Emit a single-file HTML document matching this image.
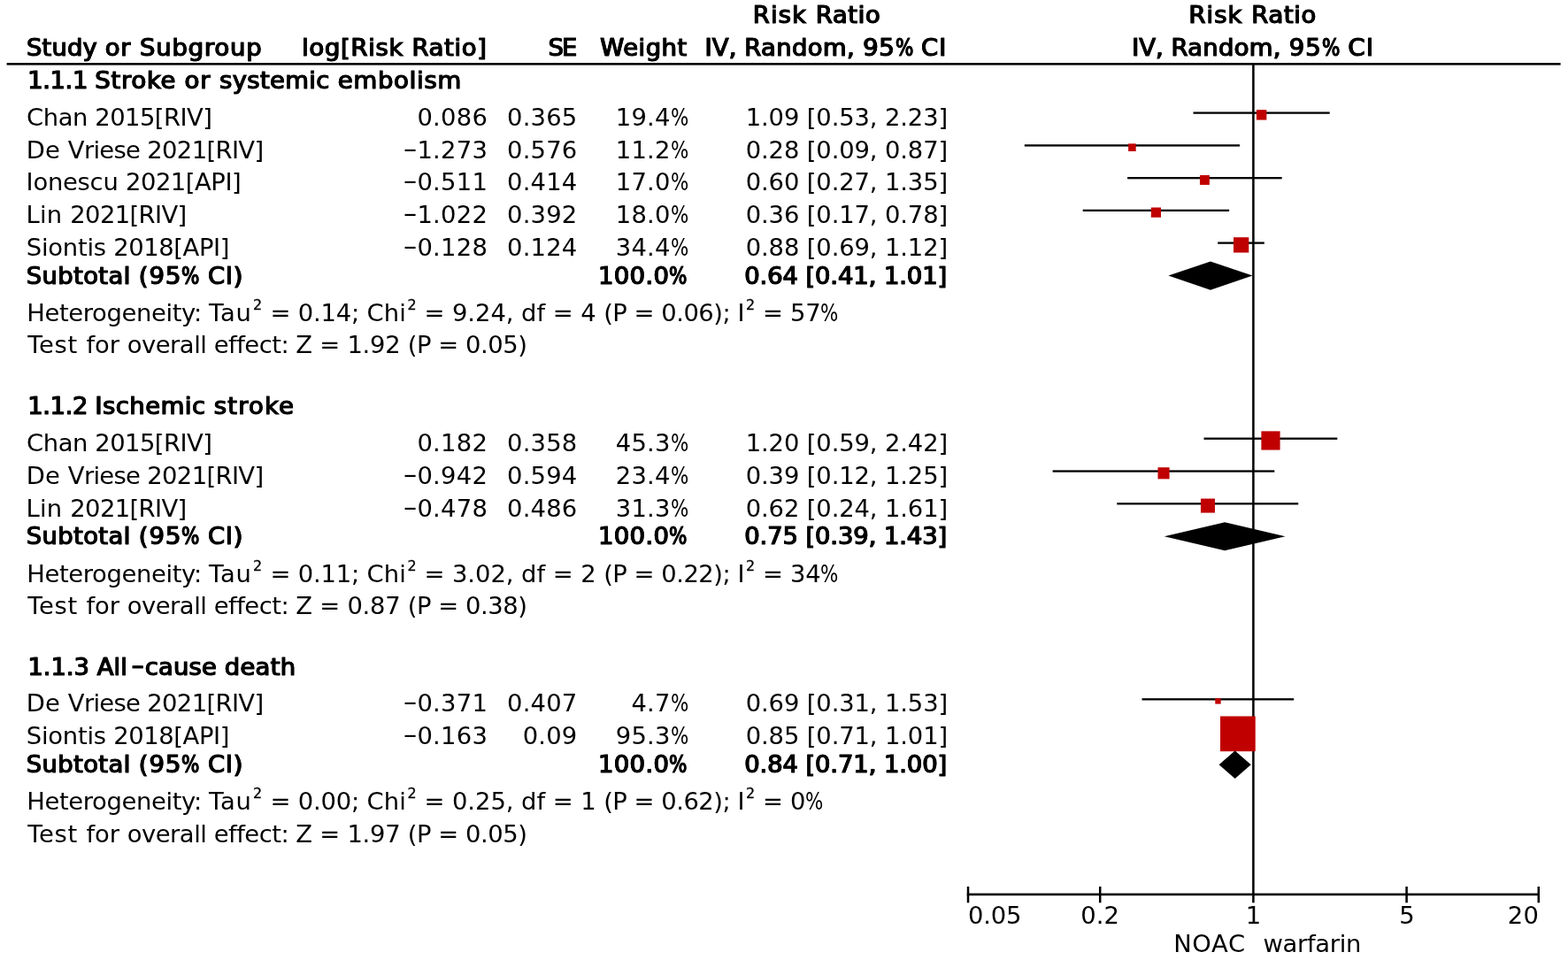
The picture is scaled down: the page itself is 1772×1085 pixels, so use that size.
<!DOCTYPE html>
<html lang="en">
<head>
<meta charset="utf-8">
<title>Forest plot: NOAC vs warfarin (risk ratio, IV, random, 95% CI)</title>
<style>
html,body{margin:0;padding:0;background:#fff}
body{width:1772px;height:1085px;position:relative;overflow:hidden;color:#000;font-family:"DejaVu Sans","Liberation Sans",sans-serif;font-size:27.4px}
#fp{position:absolute;left:0;top:0;width:1772px;height:1085px}
#fp svg{position:absolute;left:0;top:0}
.t{position:absolute;white-space:pre;line-height:40px;height:40px;margin:0;font-weight:normal}
.b{-webkit-text-stroke:1.1px #000;text-shadow:0.55px 0 0 #000,-0.55px 0 0 #000}
.r{text-align:right}
.t sup{font-size:0.58em;line-height:0;vertical-align:baseline;position:relative;top:-13px;margin-left:1.5px;letter-spacing:0;-webkit-text-stroke:.3px #000}
.m{display:inline-block;width:.545em;text-align:center;transform:scaleX(1.68);position:relative;top:-1.8px;letter-spacing:0}
.b .m{width:.63em;transform:scaleX(1.45);top:-2px;margin-left:2.6px}
.p{display:inline-block;width:.73em;transform:scaleX(.78);transform-origin:0 50%;letter-spacing:0}
</style>
</head>
<body>
<div id="fp">
<svg width="1772" height="1085" viewBox="0 0 1772 1085">
<rect x="7.60" y="71.10" width="1756.00" height="2.50" fill="#000"/>
<rect x="1415.15" y="72.00" width="2.50" height="948.30" fill="#000"/>
<rect x="1348.50" y="126.45" width="154.20" height="2.30" fill="#000"/>
<rect x="1157.80" y="163.25" width="243.20" height="2.30" fill="#000"/>
<rect x="1274.10" y="200.05" width="174.60" height="2.30" fill="#000"/>
<rect x="1223.70" y="236.70" width="165.40" height="2.30" fill="#000"/>
<rect x="1376.20" y="273.45" width="52.60" height="2.30" fill="#000"/>
<rect x="1419.95" y="124.15" width="11.40" height="11.40" fill="#c00000"/>
<rect x="1275.11" y="162.35" width="8.60" height="8.60" fill="#c00000"/>
<rect x="1355.96" y="198.00" width="10.90" height="10.90" fill="#c00000"/>
<rect x="1300.82" y="234.50" width="11.20" height="11.20" fill="#c00000"/>
<rect x="1393.98" y="268.20" width="17.30" height="17.30" fill="#c00000"/>
<polygon points="1320.40,311.60 1367.95,295.50 1415.50,311.60 1367.95,327.70" fill="#000"/>
<rect x="1360.50" y="494.55" width="150.80" height="2.30" fill="#000"/>
<rect x="1189.60" y="531.40" width="250.70" height="2.30" fill="#000"/>
<rect x="1262.30" y="568.15" width="204.90" height="2.30" fill="#000"/>
<rect x="1425.39" y="487.35" width="21.20" height="21.20" fill="#c00000"/>
<rect x="1308.48" y="528.25" width="13.10" height="13.10" fill="#c00000"/>
<rect x="1356.96" y="563.55" width="16.00" height="16.00" fill="#c00000"/>
<polygon points="1315.80,606.25 1384.15,590.30 1452.50,606.25 1384.15,622.20" fill="#000"/>
<rect x="1290.50" y="789.20" width="171.70" height="2.30" fill="#000"/>
<rect x="1379.60" y="825.95" width="37.90" height="2.30" fill="#000"/>
<rect x="1373.28" y="789.20" width="6.40" height="6.40" fill="#c00000"/>
<rect x="1379.01" y="809.50" width="39.70" height="39.70" fill="#c00000"/>
<polygon points="1377.60,864.35 1395.65,848.60 1413.70,864.35 1395.65,880.10" fill="#000"/>
<rect x="1092.78" y="1009.60" width="647.24" height="2.60" fill="#000"/>
<rect x="1092.78" y="1002.00" width="2.50" height="18.30" fill="#000"/>
<rect x="1241.96" y="1002.00" width="2.50" height="18.30" fill="#000"/>
<rect x="1588.34" y="1002.00" width="2.50" height="18.30" fill="#000"/>
<rect x="1737.52" y="1002.00" width="2.50" height="18.30" fill="#000"/>
</svg>
<div class="t b" style="left:850.82px;top:-3px"><span style="letter-spacing:1.11px">Risk </span><span style="letter-spacing:0.62px">Ratio</span></div>
<div class="t b" style="left:1343.43px;top:-3px"><span style="letter-spacing:1.08px">Risk </span><span style="letter-spacing:0.65px">Ratio</span></div>
<div class="t b" style="left:30.00px;top:34px"><span style="letter-spacing:0.15px">Study </span><span style="letter-spacing:0.86px">or </span><span style="letter-spacing:0.84px">Subgroup</span></div>
<div class="t b" style="left:341.10px;top:34px"><span style="letter-spacing:0.72px">log[Risk </span><span style="letter-spacing:0.68px">Ratio]</span></div>
<div class="t b" style="left:619.58px;top:34px;letter-spacing:-1.91px">SE</div>
<div class="t b" style="left:678.18px;top:34px;letter-spacing:0.53px">Weight</div>
<div class="t b" style="left:796.62px;top:34px"><span style="letter-spacing:0.11px">IV, </span><span style="letter-spacing:0.38px">Random, </span><span style="letter-spacing:0.77px">95<span class="p">%</span> </span><span style="letter-spacing:1.08px">CI</span></div>
<div class="t b" style="left:1279.15px;top:34px"><span style="letter-spacing:0.03px">IV, </span><span style="letter-spacing:0.30px">Random, </span><span style="letter-spacing:1.03px">95<span class="p">%</span> </span><span style="letter-spacing:1.37px">CI</span></div>
<div class="t b" style="left:31.17px;top:71px"><span style="letter-spacing:-0.37px">1.1.1 </span><span style="letter-spacing:0.75px">Stroke </span><span style="letter-spacing:0.90px">or </span><span style="letter-spacing:0.38px">systemic </span><span style="letter-spacing:0.78px">embolism</span></div>
<div class="t" style="left:30.08px;top:113px"><span style="letter-spacing:-0.43px">Chan </span><span style="letter-spacing:-0.53px">2015[RIV]</span></div>
<div class="t r" style="right:1220.70px;top:113px;letter-spacing:0.30px">0.086</div>
<div class="t r" style="right:1119.59px;top:113px;letter-spacing:0.18px">0.365</div>
<div class="t r" style="right:994.49px;top:113px;letter-spacing:0.18px">19.4<span class="p">%</span></div>
<div class="t r" style="right:701.00px;top:113px;letter-spacing:-0.13px">1.09 [0.53, 2.23]</div>
<div class="t" style="left:29.64px;top:150px"><span style="letter-spacing:0.19px">De </span><span style="letter-spacing:-0.70px">Vriese </span><span style="letter-spacing:-0.63px">2021[RIV]</span></div>
<div class="t r" style="right:1220.70px;top:150px;letter-spacing:0.30px"><span class="m">-</span>1.273</div>
<div class="t r" style="right:1119.59px;top:150px;letter-spacing:0.18px">0.576</div>
<div class="t r" style="right:994.49px;top:150px;letter-spacing:0.18px">11.2<span class="p">%</span></div>
<div class="t r" style="right:701.00px;top:150px;letter-spacing:-0.13px">0.28 [0.09, 0.87]</div>
<div class="t" style="left:29.59px;top:186px"><span style="letter-spacing:-0.26px">Ionescu </span><span style="letter-spacing:-0.46px">2021[API]</span></div>
<div class="t r" style="right:1220.70px;top:186px;letter-spacing:0.30px"><span class="m">-</span>0.511</div>
<div class="t r" style="right:1119.59px;top:186px;letter-spacing:0.18px">0.414</div>
<div class="t r" style="right:994.49px;top:186px;letter-spacing:0.18px">17.0<span class="p">%</span></div>
<div class="t r" style="right:701.00px;top:186px;letter-spacing:-0.13px">0.60 [0.27, 1.35]</div>
<div class="t" style="left:29.61px;top:223px"><span style="letter-spacing:0.19px">Lin </span><span style="letter-spacing:-0.63px">2021[RIV]</span></div>
<div class="t r" style="right:1220.70px;top:223px;letter-spacing:0.30px"><span class="m">-</span>1.022</div>
<div class="t r" style="right:1119.59px;top:223px;letter-spacing:0.18px">0.392</div>
<div class="t r" style="right:994.49px;top:223px;letter-spacing:0.18px">18.0<span class="p">%</span></div>
<div class="t r" style="right:701.00px;top:223px;letter-spacing:-0.13px">0.36 [0.17, 0.78]</div>
<div class="t" style="left:29.76px;top:260px"><span style="letter-spacing:-0.23px">Siontis </span><span style="letter-spacing:-0.43px">2018[API]</span></div>
<div class="t r" style="right:1220.70px;top:260px;letter-spacing:0.30px"><span class="m">-</span>0.128</div>
<div class="t r" style="right:1119.59px;top:260px;letter-spacing:0.18px">0.124</div>
<div class="t r" style="right:994.49px;top:260px;letter-spacing:0.18px">34.4<span class="p">%</span></div>
<div class="t r" style="right:701.00px;top:260px;letter-spacing:-0.13px">0.88 [0.69, 1.12]</div>
<div class="t b" style="left:29.79px;top:292px"><span style="letter-spacing:0.39px">Subtotal </span><span style="letter-spacing:1.00px">(95<span class="p">%</span> </span><span style="letter-spacing:0.71px">CI)</span></div>
<div class="t b r" style="right:995.74px;top:292px;letter-spacing:0.36px">100.0<span class="p">%</span></div>
<div class="t b r" style="right:701.89px;top:292px;letter-spacing:-0.09px">0.64 [0.41, 1.01]</div>
<div class="t" style="left:30.22px;top:334px"><span style="letter-spacing:-0.37px">Heterogeneity: </span><span style="letter-spacing:0.69px">Tau<sup>2</sup> </span><span style="letter-spacing:-0.21px">= 0.14; </span><span style="letter-spacing:0.15px">Chi<sup>2</sup> </span><span style="letter-spacing:-0.05px">= 9.24, </span><span style="letter-spacing:-0.07px">df = 4 </span><span style="letter-spacing:-0.49px">(P = 0.06); </span><span style="letter-spacing:0.01px">I<sup>2</sup> </span><span style="letter-spacing:-0.26px">= 57<span class="p">%</span></span></div>
<div class="t" style="left:31.19px;top:370px"><span style="letter-spacing:0.72px">Test </span><span style="letter-spacing:-0.04px">for </span><span style="letter-spacing:-0.47px">overall </span><span style="letter-spacing:-0.51px">effect: </span><span style="letter-spacing:-0.26px">Z = 1.92 </span><span style="letter-spacing:-0.46px">(P = 0.05)</span></div>
<div class="t b" style="left:31.19px;top:439px"><span style="letter-spacing:-0.37px">1.1.2 </span><span style="letter-spacing:0.53px">Ischemic </span><span style="letter-spacing:1.19px">stroke</span></div>
<div class="t" style="left:30.08px;top:481px"><span style="letter-spacing:-0.43px">Chan </span><span style="letter-spacing:-0.53px">2015[RIV]</span></div>
<div class="t r" style="right:1220.70px;top:481px;letter-spacing:0.30px">0.182</div>
<div class="t r" style="right:1119.59px;top:481px;letter-spacing:0.18px">0.358</div>
<div class="t r" style="right:994.49px;top:481px;letter-spacing:0.18px">45.3<span class="p">%</span></div>
<div class="t r" style="right:701.00px;top:481px;letter-spacing:-0.13px">1.20 [0.59, 2.42]</div>
<div class="t" style="left:29.64px;top:518px"><span style="letter-spacing:0.19px">De </span><span style="letter-spacing:-0.70px">Vriese </span><span style="letter-spacing:-0.63px">2021[RIV]</span></div>
<div class="t r" style="right:1220.70px;top:518px;letter-spacing:0.30px"><span class="m">-</span>0.942</div>
<div class="t r" style="right:1119.59px;top:518px;letter-spacing:0.18px">0.594</div>
<div class="t r" style="right:994.49px;top:518px;letter-spacing:0.18px">23.4<span class="p">%</span></div>
<div class="t r" style="right:701.00px;top:518px;letter-spacing:-0.13px">0.39 [0.12, 1.25]</div>
<div class="t" style="left:29.61px;top:555px"><span style="letter-spacing:0.19px">Lin </span><span style="letter-spacing:-0.63px">2021[RIV]</span></div>
<div class="t r" style="right:1220.70px;top:555px;letter-spacing:0.30px"><span class="m">-</span>0.478</div>
<div class="t r" style="right:1119.59px;top:555px;letter-spacing:0.18px">0.486</div>
<div class="t r" style="right:994.49px;top:555px;letter-spacing:0.18px">31.3<span class="p">%</span></div>
<div class="t r" style="right:701.00px;top:555px;letter-spacing:-0.13px">0.62 [0.24, 1.61]</div>
<div class="t b" style="left:29.79px;top:586px"><span style="letter-spacing:0.39px">Subtotal </span><span style="letter-spacing:1.00px">(95<span class="p">%</span> </span><span style="letter-spacing:0.71px">CI)</span></div>
<div class="t b r" style="right:995.74px;top:586px;letter-spacing:0.36px">100.0<span class="p">%</span></div>
<div class="t b r" style="right:701.89px;top:586px;letter-spacing:-0.09px">0.75 [0.39, 1.43]</div>
<div class="t" style="left:30.22px;top:629px"><span style="letter-spacing:-0.37px">Heterogeneity: </span><span style="letter-spacing:0.69px">Tau<sup>2</sup> </span><span style="letter-spacing:-0.21px">= 0.11; </span><span style="letter-spacing:0.15px">Chi<sup>2</sup> </span><span style="letter-spacing:-0.05px">= 3.02, </span><span style="letter-spacing:-0.07px">df = 2 </span><span style="letter-spacing:-0.49px">(P = 0.22); </span><span style="letter-spacing:0.01px">I<sup>2</sup> </span><span style="letter-spacing:-0.26px">= 34<span class="p">%</span></span></div>
<div class="t" style="left:31.19px;top:665px"><span style="letter-spacing:0.72px">Test </span><span style="letter-spacing:-0.04px">for </span><span style="letter-spacing:-0.47px">overall </span><span style="letter-spacing:-0.51px">effect: </span><span style="letter-spacing:-0.26px">Z = 0.87 </span><span style="letter-spacing:-0.46px">(P = 0.38)</span></div>
<div class="t b" style="left:31.40px;top:734px"><span style="letter-spacing:-0.03px">1.1.3 </span><span style="letter-spacing:0.14px">All<span class="m">-</span>cause </span><span style="letter-spacing:0.30px">death</span></div>
<div class="t" style="left:29.64px;top:775px"><span style="letter-spacing:0.19px">De </span><span style="letter-spacing:-0.70px">Vriese </span><span style="letter-spacing:-0.63px">2021[RIV]</span></div>
<div class="t r" style="right:1220.70px;top:775px;letter-spacing:0.30px"><span class="m">-</span>0.371</div>
<div class="t r" style="right:1119.59px;top:775px;letter-spacing:0.18px">0.407</div>
<div class="t r" style="right:994.49px;top:775px;letter-spacing:0.18px">4.7<span class="p">%</span></div>
<div class="t r" style="right:701.00px;top:775px;letter-spacing:-0.13px">0.69 [0.31, 1.53]</div>
<div class="t" style="left:29.76px;top:812px"><span style="letter-spacing:-0.23px">Siontis </span><span style="letter-spacing:-0.43px">2018[API]</span></div>
<div class="t r" style="right:1220.70px;top:812px;letter-spacing:0.30px"><span class="m">-</span>0.163</div>
<div class="t r" style="right:1119.59px;top:812px;letter-spacing:0.18px">0.09</div>
<div class="t r" style="right:994.49px;top:812px;letter-spacing:0.18px">95.3<span class="p">%</span></div>
<div class="t r" style="right:701.00px;top:812px;letter-spacing:-0.13px">0.85 [0.71, 1.01]</div>
<div class="t b" style="left:29.79px;top:844px"><span style="letter-spacing:0.39px">Subtotal </span><span style="letter-spacing:1.00px">(95<span class="p">%</span> </span><span style="letter-spacing:0.71px">CI)</span></div>
<div class="t b r" style="right:995.74px;top:844px;letter-spacing:0.36px">100.0<span class="p">%</span></div>
<div class="t b r" style="right:701.89px;top:844px;letter-spacing:-0.09px">0.84 [0.71, 1.00]</div>
<div class="t" style="left:30.22px;top:886px"><span style="letter-spacing:-0.37px">Heterogeneity: </span><span style="letter-spacing:0.69px">Tau<sup>2</sup> </span><span style="letter-spacing:-0.21px">= 0.00; </span><span style="letter-spacing:0.15px">Chi<sup>2</sup> </span><span style="letter-spacing:-0.05px">= 0.25, </span><span style="letter-spacing:-0.07px">df = 1 </span><span style="letter-spacing:-0.49px">(P = 0.62); </span><span style="letter-spacing:0.01px">I<sup>2</sup> </span><span style="letter-spacing:-0.22px">= 0<span class="p">%</span></span></div>
<div class="t" style="left:31.19px;top:923px"><span style="letter-spacing:0.72px">Test </span><span style="letter-spacing:-0.04px">for </span><span style="letter-spacing:-0.47px">overall </span><span style="letter-spacing:-0.51px">effect: </span><span style="letter-spacing:-0.26px">Z = 1.97 </span><span style="letter-spacing:-0.46px">(P = 0.05)</span></div>
<div class="t" style="left:1094.04px;top:1015px;letter-spacing:-0.19px">0.05</div>
<div class="t" style="left:1221.27px;top:1015px;letter-spacing:0.01px">0.2</div>
<div class="t" style="left:1407.87px;top:1015px">1</div>
<div class="t" style="left:1581.15px;top:1015px">5</div>
<div class="t" style="left:1703.79px;top:1015px;letter-spacing:0.17px">20</div>
<div class="t" style="left:1326.15px;top:1047px;letter-spacing:0.66px">NOAC</div>
<div class="t" style="left:1427.56px;top:1047px;letter-spacing:-0.33px">warfarin</div>
</div>
</body>
</html>
